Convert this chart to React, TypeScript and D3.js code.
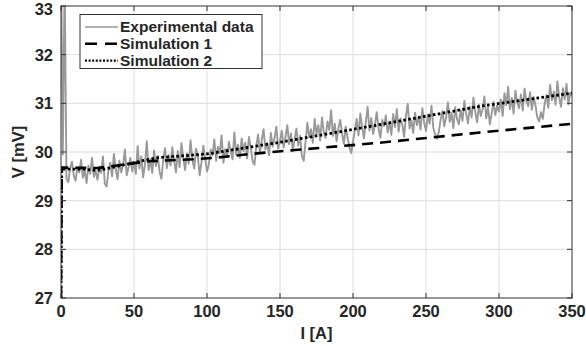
import React, { useEffect, useRef } from 'react';
import * as d3 from 'd3';

// current step of the measured trace [A]
const expStep = 1.25;

const expV = [
  34.0, 29.95, 33.6, 29.45, 29.38, 29.66, 29.80, 29.52, 29.41, 29.69, 29.58, 29.84, 29.47, 29.63, 29.36, 29.72, 29.55, 29.88, 29.49, 29.61,
  29.43, 29.70, 29.57, 29.91, 29.35, 29.29, 29.62, 29.78, 29.50, 29.96, 29.64, 29.44, 29.82, 29.58, 29.73, 30.05, 29.52, 29.68, 29.88, 29.60,
  29.79, 29.55, 30.12, 29.66, 29.91, 29.48, 29.74, 30.22, 29.63, 29.85, 29.57, 30.03, 29.71, 29.92, 29.60, 29.45, 29.83, 30.08, 29.67, 29.94,
  29.72, 30.10, 29.81, 29.58, 30.02, 29.69, 30.18, 29.88, 29.63, 29.97, 29.76, 30.24, 29.84, 29.66, 30.07, 29.90, 29.52, 29.79, 30.13, 29.86,
  29.60, 29.74, 30.05, 29.93, 30.26, 29.82, 30.11, 29.97, 30.34, 29.78, 30.06, 29.90, 30.21, 30.01, 29.85, 30.40, 29.94, 30.15, 29.88, 30.28,
  30.02, 30.19, 29.87, 30.31, 30.08, 29.81, 29.74, 30.12, 30.36, 29.98, 30.25, 30.47, 30.05, 30.18, 29.93, 30.39, 30.11, 30.29, 30.52, 30.07,
  30.23, 30.44, 30.09, 30.31, 30.55, 30.16, 30.38, 30.02, 30.26, 30.48, 30.13, 30.33, 29.92, 29.82, 30.21, 30.60, 30.30, 30.47, 30.19, 30.68,
  30.37, 30.55, 30.24, 30.71, 30.41, 30.29, 30.63, 30.45, 30.86, 30.33, 30.58, 30.22, 30.49, 30.66, 30.38, 30.17, 30.52, 30.30, 30.10, 29.98,
  30.21, 30.45, 30.68, 30.34, 30.79, 30.52, 30.28, 30.61, 30.93, 30.44, 30.70, 30.37, 30.56, 30.82, 30.48, 30.29, 30.66, 30.53, 30.75, 30.40,
  30.62, 30.35, 30.78, 30.51, 30.88, 30.42, 30.69, 30.57, 30.31, 30.74, 30.99, 30.48, 30.65, 30.39, 30.81, 30.55, 30.72, 30.46, 30.90, 30.60,
  30.43, 30.77, 30.58, 30.95, 30.50, 30.36, 30.27, 30.41, 30.66, 30.84, 30.53, 30.71, 31.02, 30.62, 30.80, 30.49, 30.92, 30.68, 30.57, 30.86,
  30.64, 31.05, 30.78, 30.59, 30.93, 30.71, 31.12, 30.82, 30.61, 30.97, 30.74, 30.88, 31.14, 30.69, 30.91, 30.57, 30.80, 31.03, 30.76, 30.95,
  30.83, 31.08, 30.74, 31.21, 30.96, 31.34, 30.88, 31.11, 30.79, 31.26, 31.02, 30.90, 31.18, 30.85, 31.30, 31.05, 30.94, 31.23, 30.87, 31.13,
  30.95, 30.71, 30.63, 30.82, 30.68, 30.99, 31.17, 30.91, 31.38, 31.06, 31.24, 30.97, 31.45, 31.12, 30.93, 31.31, 31.08, 31.40, 30.98, 31.22,
  31.15,
];

// simulation 1 (dashed)
const sim1I = [0, 0.5, 25, 60, 90, 105, 130, 160, 218, 287, 350];
const sim1V = [27, 29.68, 29.67, 29.81, 29.85, 29.88, 29.96, 30.04, 30.19, 30.40, 30.58];

// simulation 2 (dotted)
const sim2I = [0, 0.5, 15, 24, 30, 65, 100, 150, 218, 287, 350];
const sim2V = [27, 29.65, 29.65, 29.62, 29.65, 29.88, 29.96, 30.2, 30.56, 30.94, 31.21];

const xTicks = [0, 50, 100, 150, 200, 250, 300, 350];
const yTicks = [27, 28, 29, 30, 31, 32, 33];
const legendLabels = ['Experimental data', 'Simulation 1', 'Simulation 2'];

const App = () => {
  const svgRef = useRef<SVGSVGElement>(null);

  useEffect(() => {
    const width = 586;
    const height = 346;
    const margin = { top: 6, right: 14, bottom: 48, left: 61 };
    const font = 'Liberation Sans, Arial, Helvetica, sans-serif';

    const svg = d3.select(svgRef.current)
      .attr('width', width)
      .attr('height', height);
    svg.selectAll('*').remove();

    const x = d3.scaleLinear().domain([0, 350]).range([margin.left, width - margin.right]);
    const y = d3.scaleLinear().domain([27, 33]).range([height - margin.bottom, margin.top]);
    const [x0, x1] = x.range();
    const [y0, y1] = y.range();

    svg.append('rect').attr('width', width).attr('height', height).attr('fill', '#fff');

    svg.append('clipPath').attr('id', 'plot-clip')
      .append('rect')
      .attr('x', x0).attr('y', y1)
      .attr('width', x1 - x0).attr('height', y0 - y1);

    // grid
    const grid = svg.append('g').attr('stroke', '#dedede').attr('stroke-width', 1);
    grid.selectAll('.gx').data(xTicks.slice(1, -1)).join('line')
      .attr('x1', d => x(d)).attr('x2', d => x(d))
      .attr('y1', y0).attr('y2', y1);
    grid.selectAll('.gy').data(yTicks.slice(1, -1)).join('line')
      .attr('x1', x0).attr('x2', x1)
      .attr('y1', d => y(d)).attr('y2', d => y(d));

    const plot = svg.append('g').attr('clip-path', 'url(#plot-clip)');

    // measured data
    const expData = expV.map((v, i) => [i * expStep, v] as [number, number]);
    const line = d3.line<[number, number]>().x(d => x(d[0])).y(d => y(d[1]));
    plot.append('path')
      .datum(expData)
      .attr('fill', 'none')
      .attr('stroke', '#999')
      .attr('stroke-width', 1.9)
      .attr('stroke-linejoin', 'round')
      .attr('d', line);

    const sim1 = sim1I.map((c, i) => [c, sim1V[i]] as [number, number]);
    const sim2 = sim2I.map((c, i) => [c, sim2V[i]] as [number, number]);

    plot.append('path')
      .datum(sim1)
      .attr('fill', 'none')
      .attr('stroke', '#000')
      .attr('stroke-width', 2.6)
      .attr('stroke-dasharray', '11,7')
      .attr('d', line);

    plot.append('path')
      .datum(sim2)
      .attr('fill', 'none')
      .attr('stroke', '#000')
      .attr('stroke-width', 2.8)
      .attr('stroke-dasharray', '2.6,2.4')
      .attr('d', line);

    // frame and ticks
    const axisColor = '#333';
    svg.append('rect')
      .attr('x', x0).attr('y', y1)
      .attr('width', x1 - x0).attr('height', y0 - y1)
      .attr('fill', 'none').attr('stroke', axisColor).attr('stroke-width', 1);

    const ticks = svg.append('g').attr('stroke', axisColor).attr('stroke-width', 1);
    xTicks.forEach(t => {
      ticks.append('line').attr('x1', x(t)).attr('x2', x(t)).attr('y1', y0).attr('y2', y0 - 5);
      ticks.append('line').attr('x1', x(t)).attr('x2', x(t)).attr('y1', y1).attr('y2', y1 + 5);
    });
    yTicks.forEach(t => {
      ticks.append('line').attr('x1', x0).attr('x2', x0 + 5).attr('y1', y(t)).attr('y2', y(t));
      ticks.append('line').attr('x1', x1).attr('x2', x1 - 5).attr('y1', y(t)).attr('y2', y(t));
    });

    // tick labels
    svg.append('g').selectAll('text').data(xTicks).join('text')
      .attr('x', d => x(d)).attr('y', y0 + 19)
      .attr('text-anchor', 'middle')
      .attr('font-family', font).attr('font-size', 16.5).attr('font-weight', 'bold')
      .attr('fill', '#262626')
      .text(d => d);

    svg.append('g').selectAll('text').data(yTicks).join('text')
      .attr('x', x0 - 8).attr('y', d => Math.max(y(d) + 6, 15))
      .attr('text-anchor', 'end')
      .attr('font-family', font).attr('font-size', 16.5).attr('font-weight', 'bold')
      .attr('fill', '#262626')
      .text(d => d);

    // axis titles
    svg.append('text')
      .attr('x', (x0 + x1) / 2).attr('y', 339)
      .attr('text-anchor', 'middle')
      .attr('font-family', font).attr('font-size', 16.5).attr('font-weight', 'bold')
      .attr('fill', '#262626')
      .text('I [A]');

    svg.append('text')
      .attr('transform', `translate(24, ${(y0 + y1) / 2}) rotate(-90)`)
      .attr('text-anchor', 'middle')
      .attr('font-family', font).attr('font-size', 16.5).attr('font-weight', 'bold')
      .attr('fill', '#262626')
      .text('V [mV]');

    // legend
    const legend = svg.append('g');
    legend.append('rect')
      .attr('x', 80).attr('y', 14.5).attr('width', 182).attr('height', 54)
      .attr('fill', '#fff').attr('stroke', axisColor).attr('stroke-width', 1);

    const styles = [
      { stroke: '#999', width: 1.3, dash: null },
      { stroke: '#000', width: 2.6, dash: '12,8' },
      { stroke: '#000', width: 2.2, dash: '2,1.6' },
    ];
    legendLabels.forEach((label, i) => {
      const cy = 27 + i * 16.8;
      const l = legend.append('line')
        .attr('x1', 85).attr('x2', 118)
        .attr('y1', cy).attr('y2', cy)
        .attr('stroke', styles[i].stroke)
        .attr('stroke-width', styles[i].width);
      if (styles[i].dash) l.attr('stroke-dasharray', styles[i].dash);
      legend.append('text')
        .attr('x', 120).attr('y', cy + 5)
        .attr('font-family', font).attr('font-size', 15.5).attr('font-weight', 'bold')
        .attr('fill', '#262626')
        .text(label);
    });
  }, []);

  return (
    <div style={{ position: 'absolute', left: 0, top: 0 }}>
      <svg ref={svgRef} style={{ display: 'block' }}></svg>
    </div>
  );
};

export default App;
